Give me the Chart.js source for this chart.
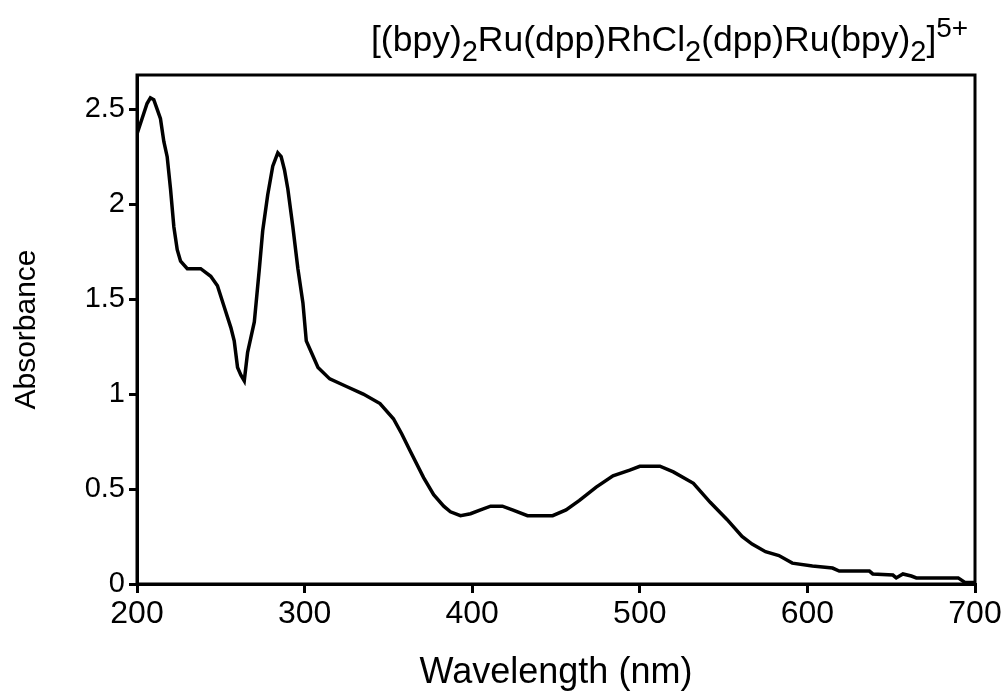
<!DOCTYPE html>
<html>
<head>
<meta charset="utf-8">
<script src="https://cdn.jsdelivr.net/npm/chart.js@4"></script>
<style>
  html, body { margin: 0; padding: 0; background: #fff; }
  #wrap { width: 1005px; height: 700px; }
</style>
</head>
<body>
<div id="wrap"><canvas id="spectrum"></canvas></div>
<script>
const wavelength = [200, 203, 206, 208, 210, 212, 214, 216, 218, 220, 222, 224, 226, 230, 238, 244, 248, 252, 256, 258, 260, 262, 264, 266, 268, 270, 273, 275, 278, 281, 284, 286, 288, 290, 293, 296, 299, 301, 304, 308, 315, 325, 335, 345, 353, 358, 363, 371, 377, 383, 387, 393, 399, 405, 411, 418, 424, 433, 448, 456, 464, 474, 484, 494, 500, 512, 520, 532, 542, 552, 561, 567, 575, 583, 591, 603, 615, 619, 637, 639, 651, 653, 657, 662, 665, 690, 694, 700]
const absorbance = [2.37, 2.45, 2.53, 2.56, 2.55, 2.50, 2.45, 2.33, 2.25, 2.08, 1.88, 1.76, 1.70, 1.66, 1.66, 1.62, 1.57, 1.46, 1.35, 1.28, 1.14, 1.10, 1.07, 1.22, 1.30, 1.38, 1.66, 1.86, 2.05, 2.20, 2.27, 2.25, 2.18, 2.08, 1.88, 1.66, 1.48, 1.28, 1.22, 1.14, 1.08, 1.04, 1.00, 0.95, 0.87, 0.79, 0.70, 0.56, 0.47, 0.41, 0.38, 0.36, 0.37, 0.39, 0.41, 0.41, 0.39, 0.36, 0.36, 0.39, 0.44, 0.51, 0.57, 0.60, 0.62, 0.62, 0.59, 0.53, 0.43, 0.34, 0.25, 0.21, 0.17, 0.15, 0.11, 0.095, 0.084, 0.068, 0.068, 0.053, 0.047, 0.032, 0.053, 0.042, 0.032, 0.032, 0.008, 0.008]

const xTicks = [200, 300, 400, 500, 600, 700]
const yTicks = [0, 0.5, 1, 1.5, 2, 2.5]

// title pieces: n = normal, sub = subscript, sup = superscript
const titleParts = [
  ['[(bpy)', 'n'], ['2', 'sub'], ['Ru(dpp)RhCl', 'n'], ['2', 'sub'],
  ['(dpp)Ru(bpy)', 'n'], ['2', 'sub'], [']', 'n'], ['5+', 'sup']
]

const FONT = "'Liberation Sans', Arial, sans-serif"

const framePlugin = {
  id: 'frame',
  afterDatasetsDraw(chart) {
    const a = chart.chartArea
    const ctx = chart.ctx
    ctx.save()
    ctx.strokeStyle = '#000'
    ctx.lineWidth = 3
    ctx.strokeRect(a.left, a.top, a.right - a.left, a.bottom - a.top)
    ctx.restore()
  }
}

const titlePlugin = {
  id: 'formulaTitle',
  afterDraw(chart) {
    const ctx = chart.ctx
    ctx.save()
    ctx.fillStyle = '#000'
    ctx.textBaseline = 'alphabetic'
    let x = 371
    const base = 51
    for (let i = 0; i < titleParts.length; i++) {
      const [txt, kind] = titleParts[i]
      let size = 35.5, dy = 0
      if (kind === 'sub') { size = 29; dy = 10 }
      if (kind === 'sup') { size = 28; dy = -14 }
      ctx.font = size + 'px ' + FONT
      ctx.fillText(txt, x, base + dy)
      x += ctx.measureText(txt).width
    }
    ctx.restore()
  }
}

const dataSpectrum = {
  datasets: [{
    label: 'Absorbance',
    data: wavelength.map((w, i) => ({ x: w, y: absorbance[i] })),
    borderColor: '#000',
    borderWidth: 3.5,
    pointRadius: 0,
    tension: 0,
    fill: false
  }]
}

const configSpectrum = {
  type: 'line',
  data: dataSpectrum,
  plugins: [framePlugin, titlePlugin],
  options: {
    responsive: true,
    maintainAspectRatio: false,
    animation: false,
    layout: { padding: { top: 75, right: 30, left: 0, bottom: 0 } },
    plugins: {
      legend: { display: false },
      tooltip: { enabled: false }
    },
    scales: {
      x: {
        type: 'linear',
        min: 200,
        max: 700,
        afterBuildTicks: (scale) => { scale.ticks = xTicks.map(v => ({ value: v })) },
        afterFit: (scale) => { scale.height = 116 },
        border: { display: true, color: '#000', width: 3 },
        grid: { drawOnChartArea: false, drawTicks: true, tickLength: 9, color: '#000', lineWidth: 3 },
        ticks: {
          color: '#000',
          padding: 2,
          maxRotation: 0,
          font: { family: FONT, size: 32 },
          callback: (v) => String(v)
        },
        title: {
          display: true,
          text: 'Wavelength (nm)',
          color: '#000',
          font: { family: FONT, size: 36, lineHeight: 1.2 },
          padding: { top: 5, bottom: 5 }
        }
      },
      y: {
        type: 'linear',
        min: 0,
        max: 2.68,
        afterBuildTicks: (scale) => { scale.ticks = yTicks.map(v => ({ value: v })) },
        afterFit: (scale) => { scale.width = 137 },
        border: { display: true, color: '#000', width: 3 },
        grid: { drawOnChartArea: false, drawTicks: true, tickLength: 8, color: '#000', lineWidth: 3 },
        ticks: {
          color: '#000',
          padding: 4,
          font: { family: FONT, size: 29 },
          callback: (v) => String(v)
        },
        title: {
          display: true,
          text: 'Absorbance',
          color: '#000',
          font: { family: FONT, size: 30, lineHeight: 1.2 },
          padding: { top: 9, bottom: 9 }
        }
      }
    }
  }
}

const myChartSpectrum = new Chart(
  document.getElementById('spectrum'),
  configSpectrum
)
</script>
</body>
</html>
